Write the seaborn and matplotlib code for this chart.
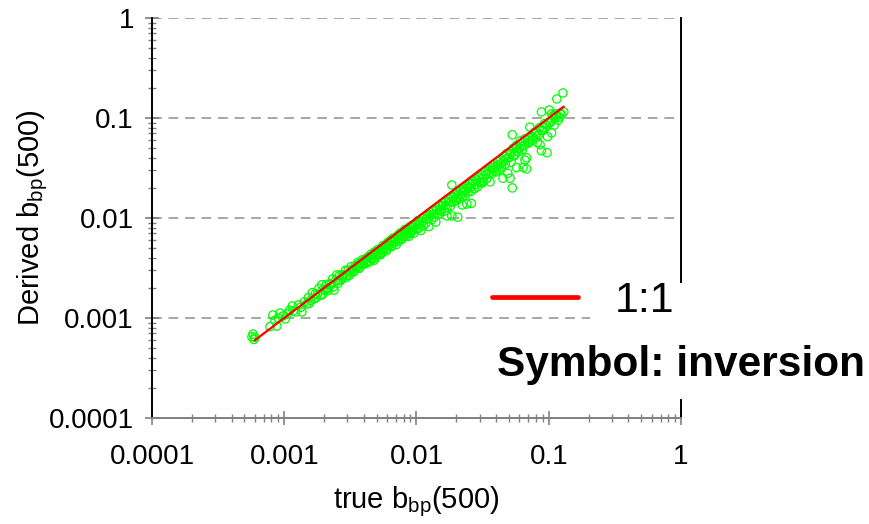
import matplotlib
matplotlib.use("Agg")
import matplotlib.pyplot as plt
import seaborn as sns
import pandas as pd
from matplotlib.ticker import FixedLocator, FixedFormatter, LogLocator, NullFormatter
from matplotlib.patches import Rectangle
from matplotlib.lines import Line2D

# ---------------- data ----------------
true_bbp = [
    0.00057, 0.00058, 0.00060, 0.00059, 0.00078, 0.00082, 0.00085, 0.00088, 0.00090, 0.00093,
    0.00098, 0.00102, 0.00105, 0.00110, 0.00115, 0.00117, 0.00122, 0.00128, 0.00133, 0.00136,
    0.00142, 0.00148,
    0.00152, 0.00158, 0.00163, 0.00168, 0.00172, 0.00178, 0.00183, 0.00188, 0.00192, 0.00197,
    0.00203, 0.00208, 0.00214, 0.00220, 0.00226, 0.00232, 0.00238, 0.00245, 0.00250, 0.00256,
    0.00262, 0.00268, 0.00275, 0.00282, 0.00290, 0.00297, 0.00305, 0.00312, 0.00320, 0.00328,
    0.00336, 0.00344, 0.00352, 0.00360, 0.00368, 0.00376, 0.00384, 0.00390, 0.00396, 0.00400,
    0.00155, 0.00175, 0.00195, 0.00215, 0.00235, 0.00255, 0.00275, 0.00295, 0.00315, 0.00335,
    0.00355, 0.00375, 0.00395,
    0.00405, 0.00412, 0.00420, 0.00428, 0.00436, 0.00444, 0.00452, 0.00460, 0.00470, 0.00480,
    0.00490, 0.00500, 0.00510, 0.00520, 0.00532, 0.00544, 0.00556, 0.00568, 0.00580, 0.00592,
    0.00605, 0.00618, 0.00632, 0.00646, 0.00660, 0.00675, 0.00690, 0.00705, 0.00720, 0.00736,
    0.00752, 0.00768, 0.00785, 0.00802, 0.00820, 0.00838, 0.00856, 0.00875, 0.00894, 0.00914,
    0.00934, 0.00955, 0.00976, 0.00998, 0.00480, 0.00560, 0.00640, 0.00720, 0.00810, 0.00900,
    0.00415, 0.00445, 0.00475, 0.00505, 0.00535, 0.00565, 0.00595, 0.00625, 0.00655, 0.00685,
    0.00715, 0.00745, 0.00775, 0.00805, 0.00835, 0.00865, 0.00895, 0.00925, 0.00955, 0.00985,
    0.0102, 0.0104, 0.0106, 0.0108, 0.0111, 0.0113, 0.0116, 0.0118, 0.0121, 0.0124,
    0.0127, 0.0130, 0.0133, 0.0136, 0.0140, 0.0143, 0.0147, 0.0150, 0.0154, 0.0158,
    0.0162, 0.0166, 0.0170, 0.0170, 0.0175, 0.0180, 0.0185, 0.0185, 0.0185, 0.0190,
    0.0195, 0.0200, 0.0205, 0.0205, 0.0210, 0.0216, 0.0222, 0.0222, 0.0228, 0.0234,
    0.0240, 0.0240, 0.0246, 0.0253, 0.0260, 0.0260, 0.0267, 0.0274, 0.0281, 0.0289,
    0.0297,
    0.0105, 0.0112, 0.0119, 0.0126, 0.0134, 0.0142, 0.0150, 0.0158, 0.0166, 0.0174,
    0.0182, 0.0190, 0.0198, 0.0207, 0.0216, 0.0225, 0.0235, 0.0245, 0.0255, 0.0265,
    0.0276, 0.0287, 0.0298,
    0.0305, 0.0313, 0.0313, 0.0322, 0.0331, 0.0340, 0.0350, 0.0360, 0.0360, 0.0370,
    0.0380, 0.0390, 0.0400, 0.0410, 0.0420, 0.0430, 0.0440, 0.0450, 0.0460, 0.0470,
    0.0480, 0.0490, 0.0500, 0.0510, 0.0510, 0.0520, 0.0530, 0.0530, 0.0540, 0.0550,
    0.0570, 0.0570, 0.0590, 0.0610, 0.0630, 0.0640, 0.0660, 0.0660, 0.0680, 0.0680,
    0.0700, 0.0720, 0.0720, 0.0750, 0.0780, 0.0800, 0.0820, 0.0850, 0.0860, 0.0880,
    0.0880, 0.0900, 0.0930, 0.0970, 0.0980, 0.1010, 0.1030, 0.1050, 0.1080, 0.1100,
    0.1120, 0.1150, 0.1180, 0.1200, 0.1220, 0.1250, 0.1280, 0.1300,
    0.0318, 0.0335, 0.0355, 0.0375, 0.0395, 0.0415, 0.0435, 0.0455, 0.0475, 0.0495,
    0.0520, 0.0545, 0.0570, 0.0600, 0.0630, 0.0660, 0.0690, 0.0720, 0.0760, 0.0800,
    0.0840, 0.0880, 0.0920, 0.0960, 0.1000, 0.1050, 0.1100, 0.1150,
]
derived_bbp = [
    0.00065, 0.00069, 0.00064, 0.00061, 0.00082, 0.00107, 0.00095, 0.00083, 0.00100, 0.00112,
    0.00105, 0.00098, 0.00110, 0.00120, 0.00132, 0.00118, 0.00115, 0.00135, 0.00128, 0.00115,
    0.00145, 0.00138,
    0.00160, 0.00150, 0.00179, 0.00155, 0.00175, 0.00171, 0.00198, 0.00169, 0.00215, 0.00193,
    0.00189, 0.00216, 0.00188, 0.00220, 0.00215, 0.00246, 0.00190, 0.00238, 0.00270, 0.00236,
    0.00267, 0.00239, 0.00270, 0.00265, 0.00299, 0.00267, 0.00302, 0.00268, 0.00326, 0.00305,
    0.00296, 0.00334, 0.00320, 0.00360, 0.00313, 0.00357, 0.00346, 0.00382, 0.00345, 0.00372,
    0.00140, 0.00160, 0.00172, 0.00200, 0.00205, 0.00222, 0.00250, 0.00255, 0.00285, 0.00290,
    0.00330, 0.00325, 0.00350,
    0.00380, 0.00350, 0.00399, 0.00372, 0.00410, 0.00364, 0.00434, 0.00391, 0.00423, 0.00379,
    0.00461, 0.00430, 0.00485, 0.00432, 0.00484, 0.00446, 0.00528, 0.00483, 0.00534, 0.00468,
    0.00569, 0.00531, 0.00588, 0.00517, 0.00627, 0.00574, 0.00621, 0.00543, 0.00670, 0.00618,
    0.00707, 0.00607, 0.00699, 0.00650, 0.00771, 0.00704, 0.00762, 0.00656, 0.00822, 0.00740,
    0.00850, 0.00706, 0.00869, 0.00778, 0.00456, 0.00470, 0.00600, 0.00590, 0.00750, 0.00700,
    0.00360, 0.00395, 0.00395, 0.00450, 0.00430, 0.00500, 0.00490, 0.00560, 0.00530, 0.00600,
    0.00580, 0.00660, 0.00620, 0.00720, 0.00660, 0.00760, 0.00720, 0.00800, 0.00760, 0.00860,
    0.0094, 0.0079, 0.0090, 0.0075, 0.0100, 0.0084, 0.0104, 0.0089, 0.0107, 0.0082,
    0.0113, 0.0096, 0.0119, 0.0102, 0.0091, 0.0126, 0.0110, 0.0132, 0.0117, 0.0141,
    0.0117, 0.0146, 0.0105, 0.0128, 0.0156, 0.0131, 0.0105, 0.0214, 0.0163, 0.0144,
    0.0174, 0.0150, 0.0102, 0.0182, 0.0155, 0.0190, 0.0135, 0.0164, 0.0200, 0.0168,
    0.0138, 0.0209, 0.0182, 0.0220, 0.0140, 0.0185, 0.0232, 0.0197, 0.0241, 0.0205,
    0.0255,
    0.0086, 0.0093, 0.0098, 0.0108, 0.0110, 0.0120, 0.0121, 0.0133, 0.0134, 0.0146,
    0.0146, 0.0160, 0.0158, 0.0172, 0.0170, 0.0187, 0.0185, 0.0205, 0.0200, 0.0220,
    0.0215, 0.0240, 0.0230,
    0.0226, 0.0224, 0.0270, 0.0232, 0.0291, 0.0248, 0.0301, 0.0230, 0.0320, 0.0278,
    0.0338, 0.0300, 0.0290, 0.0365, 0.0303, 0.0380, 0.0330, 0.0250, 0.0410, 0.0345,
    0.0440, 0.0280, 0.0400, 0.0250, 0.0460, 0.0360, 0.0200, 0.0680, 0.0500, 0.0420,
    0.0320, 0.0530, 0.0460, 0.0590, 0.0480, 0.0320, 0.0380, 0.0620, 0.0310, 0.0400,
    0.0560, 0.0810, 0.0650, 0.0600, 0.0720, 0.0660, 0.0570, 0.0800, 0.0540, 0.1150,
    0.0470, 0.0750, 0.0880, 0.0450, 0.0650, 0.1200, 0.0900, 0.0710, 0.1050, 0.0850,
    0.1100, 0.1550, 0.0950, 0.1020, 0.1120, 0.1080, 0.1780, 0.1150,
    0.0250, 0.0270, 0.0280, 0.0310, 0.0320, 0.0340, 0.0350, 0.0370, 0.0390, 0.0400,
    0.0440, 0.0430, 0.0470, 0.0500, 0.0520, 0.0540, 0.0600, 0.0580, 0.0640, 0.0700,
    0.0680, 0.0760, 0.0800, 0.0850, 0.0900, 0.1100, 0.1000, 0.1050,
]
one_to_one = [0.0006, 0.13]

tick_values = [0.0001, 0.001, 0.01, 0.1, 1]
tick_labels = ["0.0001", "0.001", "0.01", "0.1", "1"]

x_label = r"true b$_{\mathregular{bp}}$(500)"
y_label = r"Derived b$_{\mathregular{bp}}$(500)"
legend_label = "1:1"
note_text = "Symbol: inversion"

# ---------------- figure ----------------
sns.set_style("white")
plt.rcParams["font.family"] = ["Liberation Sans", "DejaVu Sans"]
plt.rcParams["mathtext.default"] = "regular"
plt.rcParams["text.color"] = "black"
plt.rcParams["axes.labelcolor"] = "black"
plt.rcParams["xtick.color"] = "black"
plt.rcParams["ytick.color"] = "black"

W, H = 870, 524
fig = plt.figure(figsize=(W / 100, H / 100), dpi=100)
ax = fig.add_axes([152 / W, 1 - 418 / H, (681 - 152) / W, (418 - 18) / H])

df = pd.DataFrame({"true": true_bbp, "derived": derived_bbp})
sns.scatterplot(data=df, x="true", y="derived", ax=ax, marker="o", s=36,
                facecolors="none", edgecolor="#00ff00", linewidth=0.9, zorder=3)
line_df = pd.DataFrame({"x": one_to_one, "y": one_to_one})
sns.lineplot(data=line_df, x="x", y="y", ax=ax, color="#ff0000", linewidth=1.6, zorder=4)

ax.set_xscale("log")
ax.set_yscale("log")
ax.set_xlim(tick_values[0], tick_values[-1])
ax.set_ylim(tick_values[0], tick_values[-1])

for axis in (ax.xaxis, ax.yaxis):
    axis.set_major_locator(FixedLocator(tick_values))
    axis.set_major_formatter(FixedFormatter(tick_labels))
    axis.set_minor_locator(LogLocator(base=10, subs=range(2, 10)))
    axis.set_minor_formatter(NullFormatter())

ax.tick_params(axis="both", which="both", bottom=True, left=True, top=False, right=False)
ax.tick_params(axis="both", which="major", direction="inout", length=10, width=1.2,
               color="#808080", labelcolor="black", labelsize=20)
ax.tick_params(axis="both", which="minor", direction="inout", length=6, width=1.0,
               color="#808080")
ax.tick_params(axis="x", which="major", pad=14)
ax.tick_params(axis="y", which="major", pad=8)

ax.yaxis.grid(True, which="major", linestyle=(0, (5, 3.5)), color="#a6a6a6", linewidth=1.4)
ax.xaxis.grid(False)

ax.spines["top"].set_visible(False)
ax.spines["left"].set_color("black")
ax.spines["left"].set_linewidth(1.4)
ax.spines["right"].set_color("black")
ax.spines["right"].set_linewidth(1.4)
ax.spines["bottom"].set_color("#808080")
ax.spines["bottom"].set_linewidth(1.4)

ax.set_xlabel(x_label, fontsize=21, labelpad=10, color="black")
ax.set_ylabel(y_label, fontsize=21, color="black")
ax.yaxis.set_label_coords((50 - 152) / (681 - 152), 0.5)

# white box behind legend text (covers grid and right spine as in the reference)
fig.patches.append(Rectangle((590 / W, 1 - 399 / H), 110 / W, 116 / H,
                             transform=fig.transFigure, facecolor="white",
                             edgecolor="none", zorder=2))

handle = Line2D([], [], color="#ff0000", linewidth=3.4)
fig.legend([handle], [legend_label], loc="center left",
           bbox_to_anchor=(492 / W, 1 - 301 / H), frameon=False,
           fontsize=31, handlelength=2.0, handletextpad=0.85,
           borderpad=0, borderaxespad=0, labelcolor="black")

fig.text(497 / W, 1 - 376 / H, note_text, fontsize=30.5, fontweight="bold",
         ha="left", va="baseline", color="black")

fig.savefig("out.png", dpi=100)
